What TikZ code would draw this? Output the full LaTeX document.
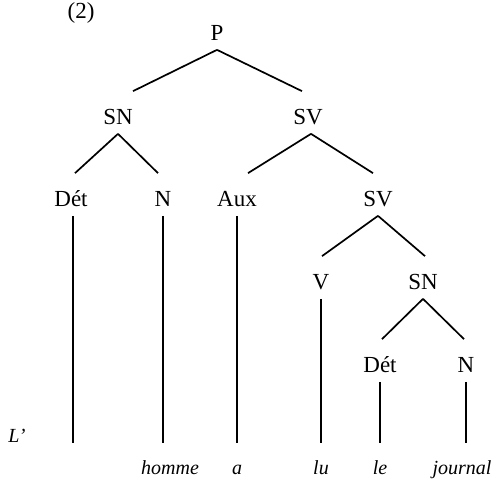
\documentclass[tikz,border=0pt]{standalone}
\usepackage{fontspec}
\setmainfont{Liberation Serif}
\usetikzlibrary{calc}

\tikzset{
  cat/.style={anchor=base,inner sep=0pt,text height=16.5pt,text depth=4pt},
  word/.style={anchor=base,inner sep=0pt,text height=15pt,font=\itshape},
}

\begin{document}
\begin{tikzpicture}[x=0.5pt,y=-0.5pt,font=\fontsize{11.5}{14}\selectfont,line width=0.85pt]
    \useasboundingbox (0,0) rectangle (497,485);
    \node[anchor=base] (num) at (81,19) {(2)};
    % categories
    \node[cat] (P) at (217,41) {P};
    \node[cat] (SN) at (118,125) {SN};
    \node[cat] (SV) at (308,125) {SV};
    \node[cat] (Det) at (71,207) {Dét};
    \node[cat] (N) at (163,207) {N};
    \node[cat] (Aux) at (237,207) {Aux};
    \node[cat] (SVb) at (378,207) {SV};
    \node[cat] (V) at (321,290) {V};
    \node[cat] (SNb) at (423,290) {SN};
    \node[cat] (Detb) at (380,373) {Dét};
    \node[cat] (Nb) at (466,373) {N};
    % mots
    \node[word] (L) at (17,443) {L’};
    \node[word] (homme) at (170,474) {homme};
    \node[word] (a) at (237,474) {a};
    \node[word] (lu) at (321,474) {lu};
    \node[word] (le) at (380,474) {le};
    \node[word] (journal) at (462,474) {journal};
    % branches
    \draw (P.south) -- ($(SN.north)+(15,0)$);
    \draw (P.south) -- ($(SV.north)+(-6,0)$);
    \draw (SN.south) -- ($(Det.north)+(4,0)$);
    \draw (SN.south) -- ($(N.north)+(-5,0)$);
    \draw ($(SV.south)+(3,0)$) -- ($(Aux.north)+(11,0)$);
    \draw ($(SV.south)+(3,0)$) -- ($(SVb.north)+(-5,0)$);
    \draw (SVb.south) -- ($(V.north)+(1,0)$);
    \draw (SVb.south) -- ($(SNb.north)+(2,0)$);
    \draw (SNb.south) -- ($(Detb.north)+(2,0)$);
    \draw (SNb.south) -- ($(Nb.north)+(-2,0)$);
    % traits verticaux
    \draw ($(Det.south)+(2,0)$) -- ($(Det.south |- L.base)+(2,0)$);
    \draw (N.south) -- (N.south |- homme.north);
    \draw (Aux.south) -- (Aux.south |- a.north);
    \draw (V.south) -- (V.south |- lu.north);
    \draw (Detb.south) -- (Detb.south |- le.north);
    \draw (Nb.south) -- (Nb.south |- journal.north);
\end{tikzpicture}
\end{document}
